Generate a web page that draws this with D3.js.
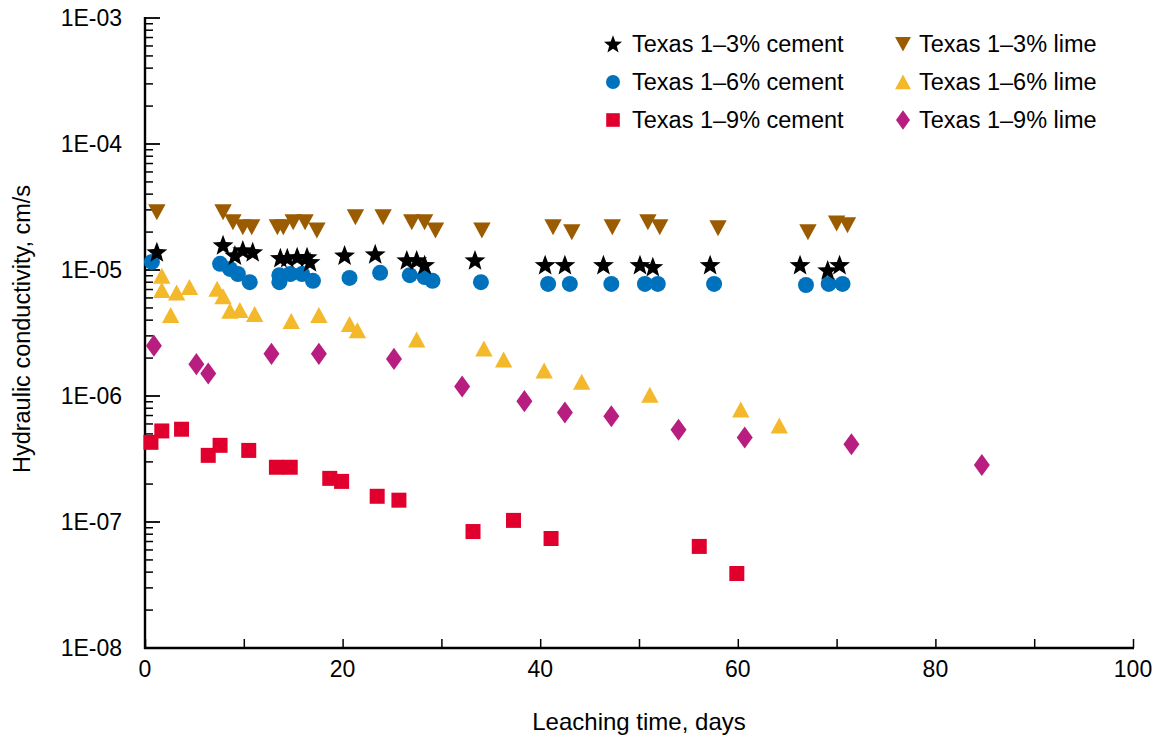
<!DOCTYPE html>
<html><head><meta charset="utf-8">
<script src="https://cdn.jsdelivr.net/npm/d3@7"></script>
<style>
html,body{margin:0;padding:0;background:#fff;}
svg{display:block;font-family:"Liberation Sans",Arial,Helvetica,sans-serif;}
</style></head>
<body><svg id="c" width="1157" height="737"></svg>
<script>
// ---- data ----
const seriesNames = ["Texas 1\u20133% cement","Texas 1\u20136% cement","Texas 1\u20139% cement","Texas 1\u20133% lime","Texas 1\u20136% lime","Texas 1\u20139% lime"];
const xCem3 = [1.2,7.9,9.1,9.9,10.9,13.7,14.4,15.4,16.4,16.7,20.2,23.3,26.5,27.5,28.3,33.4,40.5,42.5,46.4,50.1,51.4,57.2,66.3,69.1,70.3];
const kCem3 = [1.39e-5,1.58e-5,1.31e-5,1.44e-5,1.39e-5,1.25e-5,1.25e-5,1.27e-5,1.27e-5,1.16e-5,1.31e-5,1.34e-5,1.2e-5,1.2e-5,1.1e-5,1.2e-5,1.1e-5,1.1e-5,1.1e-5,1.1e-5,1.06e-5,1.1e-5,1.1e-5,1.0e-5,1.1e-5];
const xCem6 = [0.7,7.6,8.6,9.4,10.6,13.6,13.6,14.7,15.9,17.0,20.7,23.8,26.8,28.3,29.1,34.0,40.8,43.0,47.2,50.6,51.9,57.6,66.9,69.2,70.6];
const kCem6 = [1.16e-5,1.12e-5,1.02e-5,9.3e-6,8.0e-6,9.1e-6,8.0e-6,9.3e-6,9.3e-6,8.2e-6,8.65e-6,9.5e-6,9.1e-6,8.8e-6,8.2e-6,8.0e-6,7.75e-6,7.75e-6,7.75e-6,7.75e-6,7.75e-6,7.75e-6,7.6e-6,7.75e-6,7.75e-6];
const xCem9 = [0.6,1.7,3.7,6.4,7.6,10.5,13.3,14.7,18.7,19.9,23.5,25.7,33.2,37.3,41.1,56.1,59.9];
const kCem9 = [4.29e-7,5.28e-7,5.45e-7,3.38e-7,4.06e-7,3.7e-7,2.72e-7,2.72e-7,2.22e-7,2.1e-7,1.6e-7,1.49e-7,8.4e-8,1.03e-7,7.4e-8,6.4e-8,3.9e-8];
const xLim3 = [1.2,7.9,8.9,9.9,10.8,13.4,14.0,15.0,16.2,17.4,21.3,24.1,27.0,28.3,29.4,34.1,41.3,43.2,47.3,50.9,52.1,58.0,67.1,70.0,71.1];
const kLim3 = [2.88e-5,2.88e-5,2.4e-5,2.19e-5,2.19e-5,2.19e-5,2.19e-5,2.4e-5,2.4e-5,2.07e-5,2.63e-5,2.63e-5,2.4e-5,2.4e-5,2.07e-5,2.07e-5,2.19e-5,2.0e-5,2.19e-5,2.4e-5,2.19e-5,2.15e-5,2.0e-5,2.35e-5,2.27e-5];
const xLim6 = [1.7,1.7,2.6,3.2,4.5,7.3,7.9,8.6,9.6,11.1,14.8,17.6,20.7,21.5,27.5,34.3,36.3,40.4,44.2,51.1,60.3,64.2];
const kLim6 = [8.96e-6,6.9e-6,4.37e-6,6.6e-6,7.3e-6,7.07e-6,6.18e-6,4.73e-6,4.79e-6,4.45e-6,3.92e-6,4.37e-6,3.71e-6,3.32e-6,2.8e-6,2.37e-6,1.94e-6,1.59e-6,1.29e-6,1.02e-6,7.8e-7,5.8e-7];
const xLim9 = [0.9,5.2,6.4,12.8,17.6,25.2,32.1,38.4,42.5,47.2,54.0,60.7,71.5,84.7];
const kLim9 = [2.51e-6,1.79e-6,1.51e-6,2.16e-6,2.16e-6,1.97e-6,1.19e-6,9.1e-7,7.4e-7,6.9e-7,5.4e-7,4.69e-7,4.14e-7,2.83e-7];
const xTickValues = [0,20,40,60,80,100];
const yTickLabels = ["1E-08","1E-07","1E-06","1E-05","1E-04","1E-03"];
const xTitle = "Leaching time, days";
const yTitle = "Hydraulic conductivity, cm/s";

// ---- layout ----
const svg = d3.select("#c");
const L = 145, R = 1133, T = 18, B = 648;
const x = d3.scaleLinear().domain([0,100]).range([L,R]);
const y = d3.scaleLog().domain([1e-8,1e-3]).range([B,T]);

// custom symbols (size = scale factor)
const starT = {draw(c,s){const ro=s,ri=s*0.42;for(let i=0;i<10;i++){const r=i%2?ri:ro,a=-Math.PI/2+i*Math.PI/5;const px=r*Math.cos(a),py=r*Math.sin(a)+s*0.08;i?c.lineTo(px,py):c.moveTo(px,py);}c.closePath();}};
const circT = {draw(c,s){c.moveTo(s,0);c.arc(0,0,s,0,2*Math.PI);}};
const sqT = {draw(c,s){c.rect(-s,-s,2*s,2*s);}};
const upT = {draw(c,s){c.moveTo(0,-s);c.lineTo(s*1.06,s*0.95);c.lineTo(-s*1.06,s*0.95);c.closePath();}};
const dnT = {draw(c,s){c.moveTo(0,s);c.lineTo(s*1.06,-s*0.95);c.lineTo(-s*1.06,-s*0.95);c.closePath();}};
const diaT = {draw(c,s){c.moveTo(0,-s*1.38);c.lineTo(s,0);c.lineTo(0,s*1.38);c.lineTo(-s,0);c.closePath();}};

const series = [
  {name:seriesNames[2], xs:xCem9, ks:kCem9, type:sqT, size:7.5, legSize:6.8, color:"#E1002D", col:0,row:2},
  {name:seriesNames[5], xs:xLim9, ks:kLim9, type:diaT, size:8, legSize:7, color:"#B81E7F", col:1,row:2},
  {name:seriesNames[4], xs:xLim6, ks:kLim6, type:upT, size:8.2, legSize:7.5, color:"#F4B92A", col:1,row:1},
  {name:seriesNames[1], xs:xCem6, ks:kCem6, type:circT, size:8, legSize:7, color:"#0071BC", col:0,row:1},
  {name:seriesNames[3], xs:xLim3, ks:kLim3, type:dnT, size:8.2, legSize:7.5, color:"#9B5B00", col:1,row:0},
  {name:seriesNames[0], xs:xCem3, ks:kCem3, type:starT, size:11, legSize:9.5, color:"#000000", col:0,row:0}
];
const sym = (t,s)=>{const p=d3.path();t.draw(p,s);return p.toString();};

// ---- axes ----
const yg = svg.append("g").attr("transform",`translate(${L},0)`);
const minors=[];
for(let e=-8;e<-3;e++){for(let m=2;m<=9;m++)minors.push(m*Math.pow(10,e));}
yg.selectAll("line.mn").data(minors).join("line").attr("x1",0).attr("x2",8)
  .attr("y1",d=>y(d)).attr("y2",d=>y(d)).attr("stroke","#000").attr("stroke-width",1.5);
const majors = yTickLabels.map(s=>+s);
yg.selectAll("line.mj").data(majors).join("line").attr("x1",0).attr("x2",15)
  .attr("y1",d=>y(d)).attr("y2",d=>y(d)).attr("stroke","#000").attr("stroke-width",1.8);
yg.append("line").attr("x1",0).attr("x2",0).attr("y1",T-1).attr("y2",B+1).attr("stroke","#000").attr("stroke-width",2.4);
svg.append("g").selectAll("text").data(yTickLabels).join("text")
  .attr("x",L-23).attr("y",d=>y(+d)).attr("dy","0.36em").attr("text-anchor","end")
  .attr("font-size",23).text(d=>d);

const xg = svg.append("g").attr("transform",`translate(0,${B})`);
const xAxis = d3.axisTop(x).tickValues(d3.range(0,101,10)).tickSize(9).tickSizeOuter(0).tickFormat("");
xg.call(xAxis);
xg.select(".domain").remove();
xg.selectAll(".tick line").attr("stroke","#000").attr("stroke-width",1.5);
xg.append("line").attr("x1",L-1).attr("x2",R+1).attr("y1",0).attr("y2",0).attr("stroke","#000").attr("stroke-width",2.4);
svg.append("g").selectAll("text").data(xTickValues).join("text")
  .attr("x",d=>x(d)).attr("y",B+21).attr("dy","0.36em").attr("text-anchor","middle")
  .attr("font-size",23).text(d=>d);

svg.append("text").attr("x",(L+R)/2).attr("y",730).attr("text-anchor","middle").attr("font-size",24).text(xTitle);
svg.append("text").attr("transform",`translate(30,${(T+B)/2 - 4}) rotate(-90)`).attr("text-anchor","middle").attr("font-size",23.5).text(yTitle);

// ---- points ----
series.forEach(s=>{
  svg.append("g").selectAll("path").data(s.xs.map((v,i)=>[v,s.ks[i]])).join("path")
    .attr("transform",d=>`translate(${x(d[0])},${y(d[1])})`)
    .attr("d",sym(s.type,s.size)).attr("fill",s.color);
});

// ---- legend ----
const legX=[613,903], legTX=[632,919], legY=[44,82,120];
series.forEach(s=>{
  svg.append("path").attr("transform",`translate(${legX[s.col]},${legY[s.row]})`)
    .attr("d",sym(s.type,s.legSize)).attr("fill",s.color);
  svg.append("text").attr("x",legTX[s.col]).attr("y",legY[s.row]).attr("dy","0.36em")
    .attr("font-size",23.5).text(s.name);
});
</script></body></html>
